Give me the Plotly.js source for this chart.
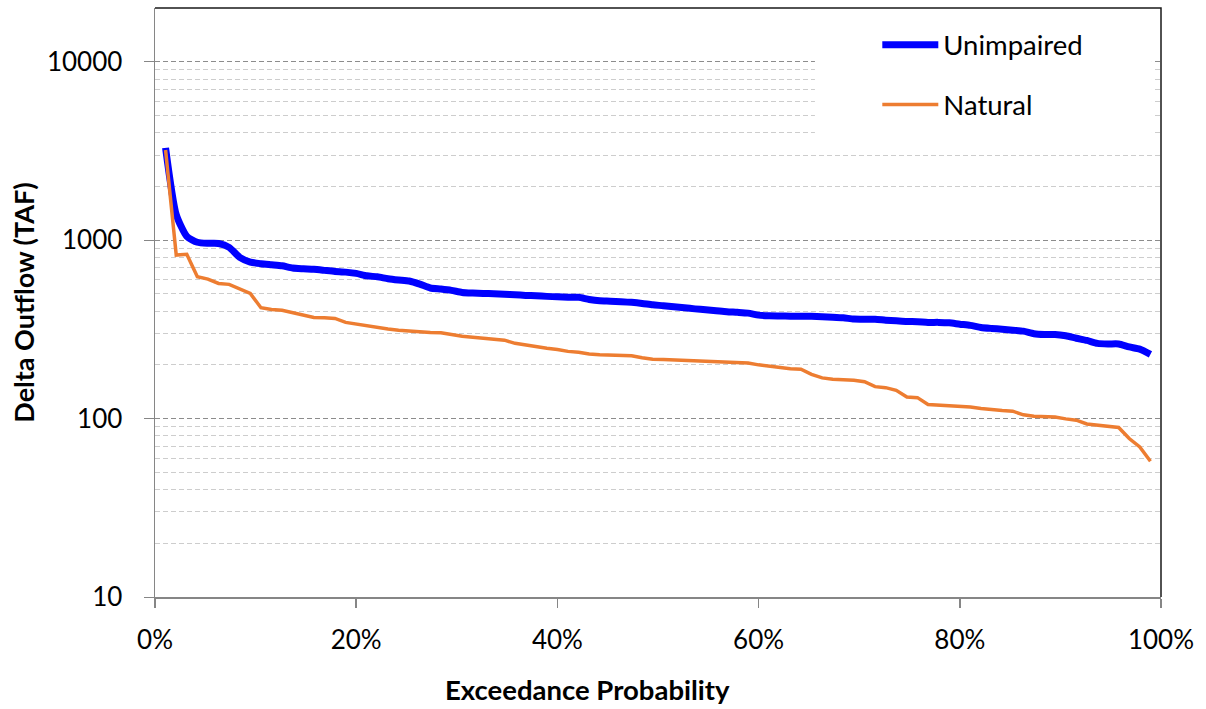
<!DOCTYPE html>
<html>
<head>
<meta charset="utf-8">
<script src="https://cdn.plot.ly/plotly-3.0.1.min.js"></script>
<style>html,body{margin:0;padding:0;background:#fff;}#chart{width:1206px;height:709px;}</style>
</head>
<body>
<div id="chart"></div>
<script>
// Exceedance probability (%) for each ranked year
const exceedancePct = [1.05,2.11,3.16,4.21,5.26,6.32,7.37,8.42,9.47,10.53,11.58,12.63,13.68,14.74,15.79,16.84,17.89,18.95,20.00,21.05,22.11,23.16,24.21,25.26,26.32,27.37,28.42,29.47,30.53,31.58,32.63,33.68,34.74,35.79,36.84,37.89,38.95,40.00,41.05,42.11,43.16,44.21,45.26,46.32,47.37,48.42,49.47,50.53,51.58,52.63,53.68,54.74,55.79,56.84,57.89,58.95,60.00,61.05,62.11,63.16,64.21,65.26,66.32,67.37,68.42,69.47,70.53,71.58,72.63,73.68,74.74,75.79,76.84,77.89,78.95,80.00,81.05,82.11,83.16,84.21,85.26,86.32,87.37,88.42,89.47,90.53,91.58,92.63,93.68,94.74,95.79,96.84,97.89,98.95];

// Delta outflow (TAF), Unimpaired
const unimpaired = [3290,1390,1050,973,960,958,911,801,754,738,728,718,698,691,686,677,668,662,651,631,623,608,598,590,567,539,532,523,509,505,503,500,497,494,490,488,484,481,479,478,465,457,455,452,448,442,434,429,423,418,412,407,402,397,394,390,380,377,376,375,375,374,372,370,367,361,360,360,356,353,350,349,346,346,344,338,333,324,320,317,313,309,299,296,296,291,282,274,264,262,262,252,245,229];

// Delta outflow (TAF), Natural
const natural = [3200,825,833,623,605,572,565,532,503,418,409,405,392,380,369,367,364,346,338,330,324,318,313,309,305,304,303,295,289,286,282,278,275,264,258,252,248,244,238,235,230,228,227,226,225,219,215,214,213,212,212,211,210,208,206,205,200,196,192,190,189,177,169,166,165,164,161,151,149,144,132,131,120,119,119,117,116,114,112,111,110,105,103,103,102,99.6,98,93.3,91.8,89.9,89.1,77.3,69.3,57.7];

const seriesNames = ['Unimpaired', 'Natural'];
const yMajorTicks = [10, 100, 1000, 10000];
const yMinorTicks = [20,30,40,50,60,70,80,90,200,300,400,500,600,700,800,900,2000,3000,4000,5000,6000,7000,8000,9000];
const xTicks = [0, 20, 40, 60, 80, 100];

const FONT = 'Lato, "Liberation Sans", sans-serif';

const traces = [
  {
    x: exceedancePct, y: unimpaired, name: seriesNames[0], type: 'scatter', mode: 'lines',
    line: {color: '#0000ff', width: 7, shape: 'spline', smoothing: 0.6},
    legendgroup: 'a'
  },
  {
    x: exceedancePct, y: natural, name: seriesNames[1], type: 'scatter', mode: 'lines',
    line: {color: '#ed7d31', width: 3.5},
    legendgroup: 'b'
  }
];

const layout = {
  width: 1206, height: 709,
  margin: {l: 155, r: 45, t: 8, b: 112},
  paper_bgcolor: '#ffffff', plot_bgcolor: '#ffffff',
  font: {family: FONT, color: '#000000', size: 26},
  showlegend: true,
  legend: {
    x: 0.718, y: 0.979, xanchor: 'left', yanchor: 'top',
    bgcolor: 'rgba(0,0,0,0)', borderwidth: 0,
    font: {family: FONT, size: 27.5, color: '#000'},
    tracegroupgap: 21, traceorder: 'grouped', itemwidth: 56
  },
  xaxis: {
    range: [0, 100], tickmode: 'array', tickvals: xTicks, ticktext: xTicks.map(v => v + '%'),
    showgrid: false, zeroline: false,
    showline: true, linecolor: '#868686', linewidth: 1.5,
    ticks: 'outside', ticklen: 9, tickcolor: '#868686', tickwidth: 1.5,
    tickfont: {family: FONT, size: 26, color: '#000'},
    ticklabelstandoff: 10
  },
  yaxis: {
    type: 'log', range: [1, Math.log10(20000)],
    tickmode: 'array', tickvals: yMajorTicks, ticktext: yMajorTicks.map(String),
    showgrid: true, gridcolor: '#8c8c8c', gridwidth: 1, griddash: '5px,3px',
    zeroline: false,
    showline: true, linecolor: '#868686', linewidth: 1.5,
    ticks: 'outside', ticklen: 10, tickcolor: '#868686', tickwidth: 1,
    tickfont: {family: FONT, size: 26, color: '#000'},
    ticklabelstandoff: 16,
    minor: {tickmode: 'array', tickvals: yMinorTicks, showgrid: true, gridcolor: '#cdcdcd', gridwidth: 1, griddash: '5px,3px', ticklen: 0},
    title: {text: '<b>Delta Outflow (TAF)</b>', font: {family: FONT, size: 27, color: '#000'}, standoff: 4}
  },
  annotations: [
    {text: '<b>Exceedance Probability</b>', xref: 'paper', yref: 'paper', x: 0.43, y: -0.157,
     xanchor: 'center', yanchor: 'middle', showarrow: false, font: {family: FONT, size: 27.5, color: '#000'}}
  ],
  shapes: [
    {type: 'rect', xref: 'paper', yref: 'paper', x0: 0.656, x1: 0.991, y0: 0.776, y1: 1,
     fillcolor: '#ffffff', line: {width: 0}, layer: 'above'},
    {type: 'path', xref: 'paper', yref: 'paper', path: 'M0,1 L1,1 L1,0',
     line: {color: '#1a1a1a', width: 1.5}, layer: 'above'}
  ]
};

Plotly.newPlot('chart', traces, layout, {displayModeBar: false, staticPlot: true});
</script>
</body>
</html>
